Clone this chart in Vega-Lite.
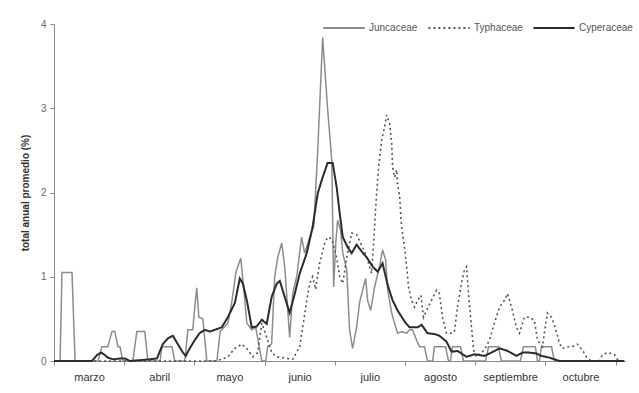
{
  "$schema": "https://vega.github.io/schema/vega-lite/v6.json",
  "width": 571,
  "height": 337,
  "autosize": "none",
  "padding": {"left": 54, "top": 24, "right": 14, "bottom": 32},
  "background": "white",
  "config": {"view": {"stroke": null}, "font": "Liberation Sans"},
  "datasets": {
    "j": [
      {"d":0,"v":0},{"d":2.6,"v":0},{"d":3.4,"v":1.05},{"d":7.7,"v":1.05},{"d":9.0,"v":0},{"d":18.8,"v":0},{"d":20.5,"v":0.17},{"d":23.0,"v":0.17},{"d":24.8,"v":0.35},{"d":26.0,"v":0.35},{"d":27.3,"v":0.17},{"d":28.2,"v":0.17},{"d":29.4,"v":0},{"d":33.7,"v":0},{"d":35.4,"v":0.35},{"d":38.8,"v":0.35},{"d":40.1,"v":0},{"d":45.3,"v":0},{"d":46.1,"v":0.17},{"d":50.4,"v":0.17},{"d":51.6,"v":0},{"d":55.9,"v":0},{"d":57.2,"v":0.37},{"d":59.3,"v":0.37},{"d":60.2,"v":0.65},{"d":61.0,"v":0.87},{"d":61.9,"v":0.52},{"d":63.6,"v":0.5},{"d":65.3,"v":0},{"d":69.6,"v":0},{"d":71.0,"v":0.35},{"d":74.3,"v":0.45},{"d":76.0,"v":0.7},{"d":77.7,"v":1.05},{"d":79.8,"v":1.22},{"d":81.1,"v":0.85},{"d":82.4,"v":0.45},{"d":84.5,"v":0.37},{"d":86.2,"v":0.4},{"d":87.5,"v":0.2},{"d":88.8,"v":0},{"d":90.5,"v":0},{"d":91.3,"v":0.17},{"d":93.0,"v":0.2},{"d":94.3,"v":1.0},{"d":95.6,"v":1.23},{"d":97.3,"v":1.4},{"d":98.6,"v":1.12},{"d":99.9,"v":0.6},{"d":100.7,"v":0.28},{"d":102.0,"v":0.8},{"d":103.7,"v":1.0},{"d":105.8,"v":1.47},{"d":107.1,"v":1.28},{"d":109.3,"v":1.47},{"d":111.0,"v":1.6},{"d":112.7,"v":2.5},{"d":114.8,"v":3.84},{"d":116.9,"v":3.0},{"d":118.7,"v":2.38},{"d":119.5,"v":0.88},{"d":120.4,"v":1.4},{"d":121.2,"v":1.67},{"d":122.5,"v":1.55},{"d":123.4,"v":1.28},{"d":125.1,"v":1.08},{"d":126.3,"v":0.37},{"d":127.6,"v":0.15},{"d":129.3,"v":0.4},{"d":130.6,"v":0.7},{"d":131.9,"v":0.84},{"d":133.2,"v":0.98},{"d":134.0,"v":0.72},{"d":135.3,"v":0.6},{"d":137.0,"v":0.88},{"d":139.1,"v":1.12},{"d":140.4,"v":1.32},{"d":141.7,"v":1.2},{"d":142.6,"v":0.84},{"d":144.3,"v":0.57},{"d":145.5,"v":0.45},{"d":146.8,"v":0.33},{"d":148.5,"v":0.35},{"d":150.7,"v":0.33},{"d":151.9,"v":0.37},{"d":153.2,"v":0.37},{"d":154.9,"v":0.25},{"d":156.2,"v":0.17},{"d":158.3,"v":0.17},{"d":159.6,"v":0},{"d":161.8,"v":0},{"d":162.6,"v":0.17},{"d":167.3,"v":0.17},{"d":168.6,"v":0},{"d":169.4,"v":0},{"d":170.3,"v":0.17},{"d":173.7,"v":0.17},{"d":175.0,"v":0},{"d":184.4,"v":0},{"d":185.7,"v":0.17},{"d":189.9,"v":0.17},{"d":191.2,"v":0},{"d":199.3,"v":0},{"d":200.6,"v":0.17},{"d":205.7,"v":0.17},{"d":206.6,"v":0},{"d":207.4,"v":0},{"d":208.3,"v":0.17},{"d":212.6,"v":0.17},{"d":213.8,"v":0},{"d":243.7,"v":0}
    ],
    "t": [
      {"d":0,"v":0},{"d":68.7,"v":0},{"d":71.7,"v":0.02},{"d":74.3,"v":0.05},{"d":77.3,"v":0.15},{"d":80.2,"v":0.2},{"d":82.4,"v":0.15},{"d":84.9,"v":0.05},{"d":87.1,"v":0.1},{"d":88.8,"v":0.45},{"d":90.1,"v":0.35},{"d":91.3,"v":0.25},{"d":93.0,"v":0.1},{"d":95.2,"v":0.05},{"d":97.7,"v":0.04},{"d":102.0,"v":0.02},{"d":105.0,"v":0.17},{"d":106.3,"v":0.4},{"d":108.0,"v":0.72},{"d":109.3,"v":0.92},{"d":110.5,"v":1.0},{"d":111.8,"v":0.85},{"d":113.5,"v":1.16},{"d":115.7,"v":1.4},{"d":116.9,"v":1.47},{"d":118.7,"v":1.45},{"d":120.8,"v":1.23},{"d":122.1,"v":1.0},{"d":123.4,"v":0.92},{"d":125.1,"v":1.23},{"d":127.2,"v":1.52},{"d":129.3,"v":1.5},{"d":131.0,"v":1.4},{"d":132.7,"v":1.3},{"d":134.0,"v":1.2},{"d":135.7,"v":1.04},{"d":137.0,"v":1.59},{"d":137.4,"v":1.8},{"d":138.7,"v":2.3},{"d":140.0,"v":2.62},{"d":141.3,"v":2.78},{"d":142.1,"v":2.92},{"d":143.4,"v":2.82},{"d":144.3,"v":2.58},{"d":144.7,"v":2.3},{"d":145.5,"v":2.18},{"d":146.4,"v":2.27},{"d":146.8,"v":2.11},{"d":147.7,"v":1.95},{"d":148.5,"v":1.6},{"d":149.8,"v":1.35},{"d":150.7,"v":1.12},{"d":151.5,"v":0.88},{"d":152.8,"v":0.72},{"d":154.1,"v":0.64},{"d":155.4,"v":0.72},{"d":156.8,"v":0.78},{"d":157.9,"v":0.52},{"d":159.2,"v":0.6},{"d":161.3,"v":0.72},{"d":163.5,"v":0.84},{"d":164.7,"v":0.8},{"d":166.0,"v":0.52},{"d":167.7,"v":0.33},{"d":169.9,"v":0.33},{"d":171.1,"v":0.35},{"d":172.4,"v":0.64},{"d":174.1,"v":0.92},{"d":175.4,"v":1.08},{"d":176.3,"v":1.12},{"d":177.1,"v":0.8},{"d":178.4,"v":0.4},{"d":179.3,"v":0.13},{"d":180.5,"v":0.05},{"d":183.9,"v":0.13},{"d":186.1,"v":0.25},{"d":188.2,"v":0.45},{"d":190.4,"v":0.64},{"d":192.5,"v":0.72},{"d":193.8,"v":0.8},{"d":195.5,"v":0.64},{"d":197.6,"v":0.4},{"d":198.9,"v":0.33},{"d":201.0,"v":0.52},{"d":203.2,"v":0.52},{"d":205.3,"v":0.48},{"d":206.6,"v":0.25},{"d":208.7,"v":0.17},{"d":210.8,"v":0.57},{"d":212.6,"v":0.52},{"d":213.8,"v":0.43},{"d":216.0,"v":0.21},{"d":217.2,"v":0.15},{"d":219.4,"v":0.17},{"d":221.5,"v":0.17},{"d":223.6,"v":0.2},{"d":225.8,"v":0.13},{"d":227.5,"v":0.05},{"d":229.6,"v":0},{"d":233.0,"v":0},{"d":234.3,"v":0.07},{"d":236.4,"v":0.1},{"d":239.4,"v":0.08},{"d":240.7,"v":0.02},{"d":242.4,"v":0}
    ],
    "c": [
      {"d":0,"v":0},{"d":16.2,"v":0},{"d":18.4,"v":0.07},{"d":20.1,"v":0.1},{"d":21.3,"v":0.08},{"d":23.0,"v":0.04},{"d":25.2,"v":0.02},{"d":28.2,"v":0.03},{"d":30.3,"v":0.03},{"d":32.4,"v":0},{"d":36.7,"v":0.01},{"d":41.0,"v":0.02},{"d":44.0,"v":0.03},{"d":45.3,"v":0.12},{"d":46.5,"v":0.2},{"d":48.7,"v":0.27},{"d":50.8,"v":0.3},{"d":52.9,"v":0.2},{"d":55.1,"v":0.1},{"d":56.3,"v":0.06},{"d":58.0,"v":0.15},{"d":60.2,"v":0.25},{"d":62.2,"v":0.33},{"d":64.4,"v":0.37},{"d":66.6,"v":0.35},{"d":68.7,"v":0.37},{"d":71.7,"v":0.4},{"d":74.3,"v":0.52},{"d":77.3,"v":0.69},{"d":79.4,"v":0.98},{"d":80.7,"v":0.92},{"d":82.4,"v":0.72},{"d":84.5,"v":0.4},{"d":86.6,"v":0.41},{"d":88.8,"v":0.49},{"d":90.9,"v":0.44},{"d":93.0,"v":0.76},{"d":95.2,"v":0.92},{"d":96.5,"v":0.95},{"d":98.6,"v":0.76},{"d":100.7,"v":0.57},{"d":102.9,"v":0.8},{"d":105.0,"v":1.04},{"d":108.0,"v":1.28},{"d":110.5,"v":1.59},{"d":112.7,"v":1.99},{"d":114.8,"v":2.18},{"d":116.9,"v":2.35},{"d":119.1,"v":2.35},{"d":120.8,"v":2.06},{"d":122.1,"v":1.75},{"d":123.4,"v":1.47},{"d":125.5,"v":1.35},{"d":127.2,"v":1.28},{"d":129.3,"v":1.38},{"d":131.5,"v":1.3},{"d":133.6,"v":1.23},{"d":136.2,"v":1.12},{"d":138.3,"v":1.06},{"d":140.4,"v":1.16},{"d":142.6,"v":0.9},{"d":144.7,"v":0.72},{"d":146.8,"v":0.6},{"d":149.8,"v":0.47},{"d":151.9,"v":0.4},{"d":155.4,"v":0.4},{"d":157.1,"v":0.43},{"d":159.6,"v":0.33},{"d":162.6,"v":0.32},{"d":164.7,"v":0.3},{"d":167.7,"v":0.23},{"d":169.9,"v":0.11},{"d":172.4,"v":0.12},{"d":176.3,"v":0.05},{"d":179.7,"v":0.08},{"d":183.9,"v":0.06},{"d":186.9,"v":0.1},{"d":190.4,"v":0.15},{"d":193.8,"v":0.12},{"d":197.6,"v":0.06},{"d":200.2,"v":0.1},{"d":203.2,"v":0.1},{"d":206.1,"v":0.09},{"d":208.3,"v":0.06},{"d":211.7,"v":0.04},{"d":216.0,"v":0},{"d":243.7,"v":0}
    ]
  },
  "data": {"name": "j"},
  "transform": [
    {"calculate": "'Juncaceae'", "as": "s"}
  ],
  "layer": [
    {
      "mark": {"type": "line", "color": "#8c8c8c", "strokeWidth": 1.5},
      "encoding": {
        "x": {"field": "d", "type": "quantitative", "scale": {"domain": [0, 244], "nice": false, "zero": false},
          "axis": {"values": [0, 30, 60, 90, 120, 150, 180, 210, 240],
            "labelExpr": "['marzo','abril','mayo','junio','julio','agosto','septiembre','octubre',''][round(datum.value/30)]",
            "labelOffset": 35, "title": null, "grid": false, "domainColor": "#8a8a8a", "tickColor": "#8a8a8a", "tickSize": 4,
            "labelColor": "#333333", "labelFontSize": 11, "labelPadding": 6, "labelFlush": false, "labelOverlap": false, "labelBound": false}},
        "y": {"field": "v", "type": "quantitative", "scale": {"domain": [0, 4], "nice": false},
          "axis": {"values": [0, 1, 2, 3, 4], "format": "d", "title": "total anual promedio (%)", "grid": false,
            "domainColor": "#8a8a8a", "tickColor": "#8a8a8a", "tickSize": 4, "labelColor": "#666666", "labelFontSize": 10, "labelPadding": 4,
            "titleFontWeight": "bold", "titleFontSize": 10, "titleColor": "#333333", "titlePadding": 10}},
        "color": {"field": "s", "type": "nominal",
          "scale": {"domain": ["Juncaceae", "Typhaceae", "Cyperaceae"], "range": ["#8c8c8c", "#555555", "#2b2b2b"]},
          "legend": {"orient": "none", "legendX": 268, "legendY": -18, "direction": "horizontal", "title": null,
            "symbolType": "stroke", "symbolSize": 1700, "symbolStrokeWidth": 1.8, "labelFontSize": 10, "labelColor": "#555555",
            "labelOffset": 3, "columnPadding": 6}},
        "strokeDash": {"field": "s", "type": "nominal",
          "scale": {"domain": ["Juncaceae", "Typhaceae", "Cyperaceae"], "range": [[1, 0], [2, 3], [1, 0]]},
          "legend": {"orient": "none", "legendX": 268, "legendY": -18, "direction": "horizontal", "title": null,
            "symbolType": "stroke", "symbolSize": 1700, "symbolStrokeWidth": 1.8, "labelFontSize": 10, "labelColor": "#555555",
            "labelOffset": 3, "columnPadding": 6}}
      }
    },
    {
      "data": {"name": "t"},
      "transform": [{"calculate": "'Typhaceae'", "as": "s"}],
      "mark": {"type": "line", "strokeWidth": 1.6},
      "encoding": {
        "x": {"field": "d", "type": "quantitative"},
        "y": {"field": "v", "type": "quantitative"},
        "color": {"field": "s", "type": "nominal"},
        "strokeDash": {"field": "s", "type": "nominal"}
      }
    },
    {
      "data": {"name": "c"},
      "transform": [{"calculate": "'Cyperaceae'", "as": "s"}],
      "mark": {"type": "line", "strokeWidth": 2},
      "encoding": {
        "x": {"field": "d", "type": "quantitative"},
        "y": {"field": "v", "type": "quantitative"},
        "color": {"field": "s", "type": "nominal"},
        "strokeDash": {"field": "s", "type": "nominal"}
      }
    }
  ]
}
